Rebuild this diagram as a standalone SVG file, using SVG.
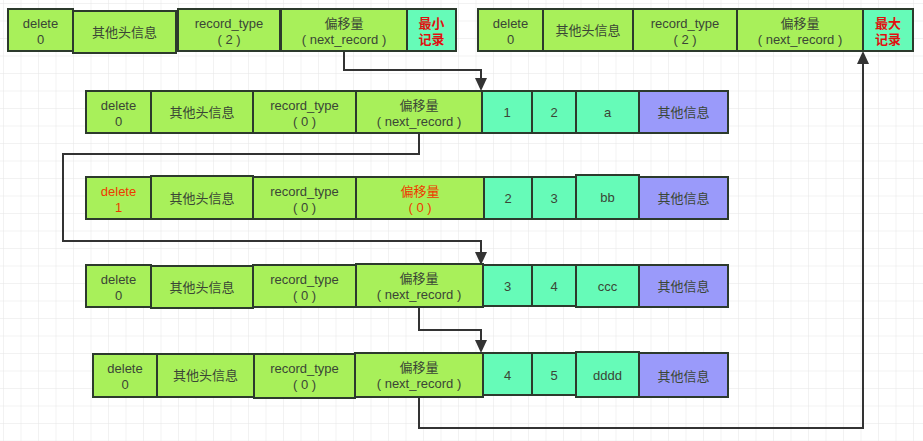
<svg xmlns="http://www.w3.org/2000/svg" width="923" height="441" viewBox="0 0 923 441">
<defs>
<pattern id="grid" width="17.5" height="17.5" patternUnits="userSpaceOnUse" x="4" y="4">
<path d="M17.5 0V17.5M0 17.5H17.5" fill="none" stroke="#e6e6e6" stroke-width="1"/>
</pattern>
<style>
.g{fill:#a8f05a;stroke:#2c3a2c;stroke-width:2}
.t{fill:#66fbb8;stroke:#2c3a2c;stroke-width:2}
.p{fill:#9a9afa;stroke:#2c3a2c;stroke-width:2}
text{font-family:"Liberation Sans","Noto Sans CJK SC",sans-serif;font-size:13px;fill:#3a4636;text-anchor:middle}
.r{fill:#e01010;font-weight:bold}
.o{fill:#ee3a00}
.c{fill:none;stroke:#333;stroke-width:2}
.ah{fill:#333}
</style>
</defs>
<rect width="923" height="441" fill="#fff"/>
<rect width="923" height="441" fill="url(#grid)"/>

<g id="connectors">
<path class="c" d="M344 51V70H481V80"/>
<path class="ah" d="M475 78L487 78L481 91Z"/>
<path class="c" d="M419 133V154H63V241H481V254"/>
<path class="ah" d="M475 252L487 252L481 265Z"/>
<path class="c" d="M419 307V330H481V342"/>
<path class="ah" d="M475 340L487 340L481 353Z"/>
<path class="c" d="M419 397V428H863V62"/>
<path class="ah" d="M857 64L869 64L863 51Z"/>
</g>

<g id="infimum">
<g id="inf-delete"><rect class="g" x="8" y="9" width="65" height="42"/><text x="40.5" y="28">delete</text><text x="40.5" y="44">0</text></g>
<g id="inf-header"><rect class="g" x="73" y="11" width="103" height="42"/><text x="124.5" y="37">其他头信息</text></g>
<g id="inf-type"><rect class="g" x="178" y="9" width="102" height="42"/><text x="229" y="28">record_type</text><text x="229" y="44">( 2 )</text></g>
<g id="inf-next"><rect class="g" x="281" y="9" width="126" height="42"/><text x="344" y="28">偏移量</text><text x="344" y="44">( next_record )</text></g>
<g id="inf-label"><rect class="t" x="407" y="9" width="49" height="42"/><text class="r" x="431.5" y="28">最小</text><text class="r" x="431.5" y="44">记录</text></g>
</g>

<g id="supremum">
<g id="sup-delete"><rect class="g" x="478" y="9" width="65" height="42"/><text x="510.5" y="28">delete</text><text x="510.5" y="44">0</text></g>
<g id="sup-header"><rect class="g" x="543" y="9" width="90" height="42"/><text x="588" y="35">其他头信息</text></g>
<g id="sup-type"><rect class="g" x="633" y="9" width="104" height="42"/><text x="685" y="28">record_type</text><text x="685" y="44">( 2 )</text></g>
<g id="sup-next"><rect class="g" x="737" y="9" width="126" height="42"/><text x="800" y="28">偏移量</text><text x="800" y="44">( next_record )</text></g>
<g id="sup-label"><rect class="t" x="863" y="9" width="50" height="42"/><text class="r" x="888" y="28">最大</text><text class="r" x="888" y="44">记录</text></g>
</g>

<g id="record1">
<g><rect class="g" x="86" y="91" width="65" height="42"/><text x="118.5" y="110">delete</text><text x="118.5" y="126">0</text></g>
<g><rect class="g" x="151" y="91" width="102" height="42"/><text x="202" y="117">其他头信息</text></g>
<g><rect class="g" x="253" y="91" width="103" height="42"/><text x="304.5" y="110">record_type</text><text x="304.5" y="126">( 0 )</text></g>
<g><rect class="g" x="356" y="91" width="126" height="42"/><text x="419" y="110">偏移量</text><text x="419" y="126">( next_record )</text></g>
<g><rect class="t" x="482" y="91" width="50" height="42"/><text x="507" y="117">1</text></g>
<g><rect class="t" x="532" y="91" width="44" height="42"/><text x="554" y="117">2</text></g>
<g><rect class="t" x="576" y="91" width="63" height="42"/><text x="607.5" y="117">a</text></g>
<g><rect class="p" x="639" y="91" width="89" height="42"/><text x="683.5" y="117">其他信息</text></g>
</g>

<g id="record2">
<g><rect class="g" x="86" y="177" width="65" height="42"/><text class="o" x="118.5" y="196">delete</text><text class="o" x="118.5" y="212">1</text></g>
<g><rect class="g" x="151" y="176" width="102" height="43"/><text x="202" y="203">其他头信息</text></g>
<g><rect class="g" x="253" y="177" width="103" height="42"/><text x="304.5" y="196">record_type</text><text x="304.5" y="212">( 0 )</text></g>
<g><rect class="g" x="356" y="177" width="128" height="42"/><text class="o" x="420" y="196">偏移量</text><text class="o" x="420" y="212">( 0 )</text></g>
<g><rect class="t" x="484" y="177" width="48" height="42"/><text x="508" y="203">2</text></g>
<g><rect class="t" x="532" y="177" width="44" height="42"/><text x="554" y="203">3</text></g>
<g><rect class="t" x="576" y="175" width="63" height="44"/><text x="607.5" y="202">bb</text></g>
<g><rect class="p" x="639" y="177" width="89" height="42"/><text x="683.5" y="203">其他信息</text></g>
</g>

<g id="record3">
<g><rect class="g" x="86" y="265" width="65" height="42"/><text x="118.5" y="284">delete</text><text x="118.5" y="300">0</text></g>
<g><rect class="g" x="151" y="266" width="102" height="42"/><text x="202" y="292">其他头信息</text></g>
<g><rect class="g" x="253" y="265" width="103" height="42"/><text x="304.5" y="284">record_type</text><text x="304.5" y="300">( 0 )</text></g>
<g><rect class="g" x="356" y="264" width="127" height="43"/><text x="419" y="283">偏移量</text><text x="419" y="299">( next_record )</text></g>
<g><rect class="t" x="483" y="265" width="49" height="41"/><text x="507.5" y="291">3</text></g>
<g><rect class="t" x="532" y="265" width="44" height="41"/><text x="554" y="291">4</text></g>
<g><rect class="t" x="576" y="265" width="63" height="42"/><text x="607.5" y="291">ccc</text></g>
<g><rect class="p" x="639" y="265" width="89" height="42"/><text x="683.5" y="291">其他信息</text></g>
</g>

<g id="record4">
<g><rect class="g" x="93" y="354" width="64" height="43"/><text x="125" y="373">delete</text><text x="125" y="389">0</text></g>
<g><rect class="g" x="157" y="354" width="97" height="43"/><text x="205.5" y="380">其他头信息</text></g>
<g><rect class="g" x="254" y="354" width="101" height="44"/><text x="304.5" y="373">record_type</text><text x="304.5" y="389">( 0 )</text></g>
<g><rect class="g" x="355" y="353" width="128" height="44"/><text x="419" y="372">偏移量</text><text x="419" y="388">( next_record )</text></g>
<g><rect class="t" x="483" y="353" width="49" height="42"/><text x="507.5" y="380">4</text></g>
<g><rect class="t" x="532" y="353" width="44" height="42"/><text x="554" y="380">5</text></g>
<g><rect class="t" x="576" y="352" width="63" height="45"/><text x="607.5" y="380">dddd</text></g>
<g><rect class="p" x="639" y="353" width="89" height="44"/><text x="683.5" y="381">其他信息</text></g>
</g>
</svg>
